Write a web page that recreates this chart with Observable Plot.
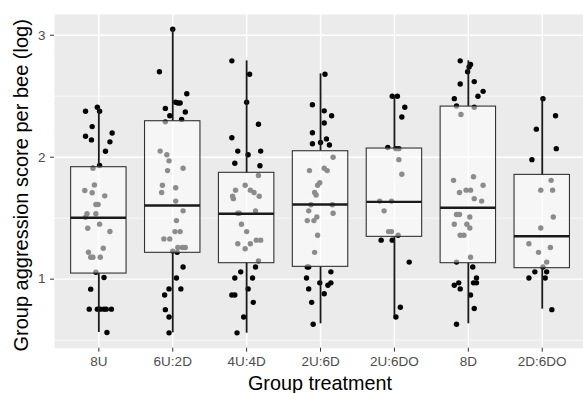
<!DOCTYPE html>
<html><head><meta charset="utf-8">
<script src="https://cdn.jsdelivr.net/npm/d3@7"></script>
<script src="https://cdn.jsdelivr.net/npm/@observablehq/plot@0.6"></script>
<style>body{margin:0;background:#fff} svg{display:block}</style>
</head><body><div id="chart"></div>
<script>
const categories = ["8U", "6U:2D", "4U:4D", "2U:6D", "2U:6DO", "8D", "2D:6DO"];
const q1 =          [1.046, 1.216, 1.131, 1.101, 1.347, 1.131, 1.090];
const median =      [1.503, 1.604, 1.536, 1.612, 1.634, 1.585, 1.352];
const q3 =          [1.918, 2.295, 1.872, 2.049, 2.071, 2.415, 1.855];
const whiskerLow =  [0.563, 0.560, 0.557, 0.634, 0.694, 0.634, 0.754];
const whiskerHigh = [2.400, 3.050, 2.790, 2.683, 2.497, 2.790, 2.478];
const yTicks = [1, 2, 3];
const yMinor = [0.5, 1.5, 2.5];

const values_8U = [2.377, 2.410, 2.377, 2.251, 2.172, 2.142, 2.199, 2.126, 2.049, 1.932,
  1.910, 1.773, 1.727, 1.708, 1.683, 1.612, 1.612, 1.536, 1.508, 1.536, 1.418, 1.451, 1.391,
  1.221, 1.254, 1.180, 1.180, 1.180, 1.057,
  1.014, 0.918, 0.754, 0.754, 0.754, 0.754, 0.754, 0.754, 0.563];
const jitter_8U = [-0.18, -0.02, 0.01, -0.09, -0.18, -0.10, 0.18, 0.15, 0.09, 0.01,
  -0.08, -0.06, -0.19, -0.09, 0.08, -0.04, -0.01, -0.16, -0.18, -0.04, -0.15, 0.01, 0.15,
  -0.14, 0.06, -0.11, -0.08, 0.02, -0.04,
  0.07, -0.11, -0.13, -0.02, 0.02, 0.07, 0.10, 0.17, 0.11];

const values_6U2D = [3.05, 2.70, 2.52, 2.45, 2.445, 2.445, 2.40, 2.34, 2.37, 2.31,
  2.29, 2.05, 2.02, 1.97, 1.89, 1.91, 1.77, 1.71, 1.75, 1.64, 1.56, 1.48, 1.39, 1.39,
  1.33, 1.33, 1.26, 1.26, 1.26, 1.23, 1.22,
  1.10, 1.01, 0.92, 0.92, 0.87, 0.75, 0.69, 0.56];
const jitter_6U2D = [0.00, -0.18, 0.19, 0.04, 0.07, 0.10, -0.10, -0.04, 0.17, 0.12,
  -0.10, -0.17, -0.08, -0.05, -0.07, 0.14, -0.14, -0.15, 0.04, 0.04, 0.14, 0.05, 0.03, 0.10,
  -0.12, -0.04, 0.07, 0.13, 0.17, 0.00, 0.06,
  0.14, 0.05, -0.05, 0.11, -0.11, -0.10, -0.05, -0.05];

const values_4U4D = [2.79, 2.68, 2.45, 2.27, 2.16, 2.05, 2.05, 2.02, 1.95, 1.93,
  1.85, 1.77, 1.73, 1.73, 1.71, 1.68, 1.68, 1.66, 1.54, 1.54, 1.56, 1.45, 1.39,
  1.29, 1.25, 1.29, 1.32, 1.32, 1.15,
  1.10, 1.06, 1.01, 1.01, 0.92, 0.87, 0.87, 0.81, 0.69, 0.56];
const jitter_4U4D = [-0.20, 0.04, 0.00, 0.16, -0.20, -0.12, 0.19, 0.02, -0.16, 0.18,
  0.16, -0.02, -0.15, 0.05, 0.10, 0.17, -0.19, -0.18, -0.12, -0.10, 0.12, -0.07, 0.00,
  -0.12, -0.02, 0.05, 0.13, 0.19, 0.16,
  0.12, -0.08, -0.16, 0.08, 0.02, -0.20, -0.16, 0.09, -0.04, -0.13];

const values_2U6D = [2.68, 2.43, 2.38, 2.34, 2.28, 2.20, 2.11, 2.12, 2.15, 2.10,
  2.00, 1.89, 1.91, 1.89, 1.79, 1.77, 1.71, 1.69, 1.61, 1.61, 1.56, 1.54, 1.48, 1.48,
  1.51, 1.36, 1.22, 1.10, 1.10,
  1.06, 1.01, 0.97, 0.95, 0.97, 0.88, 0.92, 0.81, 0.63];
const jitter_2U6D = [0.06, -0.11, 0.05, 0.15, 0.05, -0.11, -0.11, 0.00, 0.08, 0.12,
  0.17, -0.15, 0.05, 0.09, -0.01, -0.04, -0.08, -0.06, -0.13, 0.16, -0.16, 0.17, -0.18, -0.09,
  -0.05, -0.04, -0.08, -0.18, -0.16,
  0.14, -0.19, -0.01, 0.10, 0.14, 0.05, -0.16, -0.12, -0.10];

const values_2U6DO = [2.50, 2.50, 2.41, 2.33, 2.08, 2.07, 2.07, 1.98, 1.86, 1.64, 1.64,
  1.56, 1.39, 1.39, 1.36, 1.32, 1.32, 1.14, 0.77, 0.69];
const jitter_2U6DO = [-0.03, 0.04, 0.14, 0.10, -0.09, 0.02, 0.06, 0.06, 0.10, -0.20, -0.04,
  -0.14, -0.08, -0.04, 0.05, -0.18, -0.03, 0.20, 0.08, 0.02];

const values_8D = [2.79, 2.76, 2.74, 2.70, 2.60, 2.62, 2.54, 2.50, 2.48, 2.42, 2.41, 2.35,
  1.81, 1.84, 1.77, 1.71, 1.73, 1.73, 1.66, 1.64, 1.53, 1.53, 1.51, 1.45, 1.45, 1.42,
  1.36, 1.36, 1.14, 1.18,
  1.10, 1.01, 0.95, 0.97, 0.92, 0.97, 0.97, 0.87, 0.76, 0.63];
const jitter_8D = [-0.11, 0.03, 0.01, -0.01, -0.11, 0.08, 0.20, 0.13, -0.19, -0.16, 0.08, -0.10,
  -0.20, 0.07, 0.20, -0.12, -0.03, 0.03, 0.08, 0.18, -0.16, -0.12, 0.02, -0.19, -0.02, 0.02,
  -0.11, -0.06, -0.16, 0.03,
  0.06, 0.11, -0.19, -0.13, -0.11, 0.07, 0.11, 0.03, 0.08, -0.16];

const values_2D6DO = [2.48, 2.34, 2.23, 2.07, 1.98, 1.81, 1.73, 1.73, 1.51, 1.42, 1.29, 1.26,
  1.22, 1.14, 1.10, 1.06, 1.01, 1.06, 1.01, 0.75];
const jitter_2D6DO = [0.01, 0.18, -0.08, 0.19, -0.14, 0.12, -0.02, 0.14, 0.15, -0.02, -0.18, 0.11,
  -0.05, 0.06, 0.01, -0.10, -0.18, 0.06, 0.04, 0.13];

const groupValues = [values_8U, values_6U2D, values_4U4D, values_2U6D, values_2U6DO, values_8D, values_2D6DO];
const groupJitter = [jitter_8U, jitter_6U2D, jitter_4U4D, jitter_2U6D, jitter_2U6DO, jitter_8D, jitter_2D6DO];

const points = groupValues.flatMap((vals, g) =>
  vals.map((v, i) => ({pos: g + 1 + groupJitter[g][i], value: v})));
const boxes = categories.map((c, i) => ({
  pos: i + 1, name: c, q1: q1[i], median: median[i], q3: q3[i], lo: whiskerLow[i], hi: whiskerHigh[i]
}));
const positions = categories.map((c, i) => i + 1);
const HW = 0.375;
const band = 73.9;

const chart = Plot.plot({
  width: 583, height: 393,
  marginLeft: 54, marginRight: 0, marginTop: 14, marginBottom: 45.3,
  style: {fontFamily: "'Liberation Sans', Arial, sans-serif", fontSize: "13.5px", background: "white", overflow: "hidden"},
  x: {type: "linear", domain: [0.4, 7.6], range: [54, 54 + 7.2 * band]},
  y: {type: "linear", domain: [0.434, 3.17]},
  marks: [
    Plot.frame({fill: "#ebebeb", stroke: null}),
    Plot.ruleY(yMinor, {stroke: "white", strokeWidth: 0.7}),
    Plot.ruleY(yTicks, {stroke: "white", strokeWidth: 1.4}),
    Plot.ruleX(positions, {stroke: "white", strokeWidth: 1.4}),
    Plot.dot(points, {x: "pos", y: "value", r: 2.7, fill: "black", stroke: null}),
    Plot.ruleX(boxes, {x: "pos", y1: "q3", y2: "hi", stroke: "#1a1a1a", strokeWidth: 1.8}),
    Plot.ruleX(boxes, {x: "pos", y1: "lo", y2: "q1", stroke: "#1a1a1a", strokeWidth: 1.8}),
    Plot.rect(boxes, {x1: d => d.pos - HW, x2: d => d.pos + HW, y1: "q1", y2: "q3",
      fill: "white", fillOpacity: 0.55, stroke: "#333333", strokeWidth: 1.1}),
    Plot.ruleY(boxes, {y: "median", x1: d => d.pos - HW, x2: d => d.pos + HW, stroke: "#1a1a1a", strokeWidth: 2.4}),
    Plot.axisX(positions, {tickFormat: d => categories[d - 1], tickSize: 4, tickPadding: 4,
      fontSize: 13.5, stroke: "#333333", fill: "#4d4d4d", label: null}),
    Plot.axisY(yTicks, {tickFormat: d => String(d), tickSize: 4, tickPadding: 5, fontSize: 13.5,
      stroke: "#333333", fill: "#4d4d4d", label: null}),
    Plot.text(["Group treatment"], {text: d => d, frameAnchor: "bottom", textAnchor: "middle",
      lineAnchor: "middle", dx: 1, dy: 35.5, fontSize: 19.8, fill: "black"}),
    Plot.text(["Group aggression score per bee (log)"], {text: d => d, frameAnchor: "left", textAnchor: "middle",
      lineAnchor: "middle", rotate: -90, dx: -32.8, dy: 4, fontSize: 20, fill: "black"})
  ]
});
document.getElementById("chart").appendChild(chart);
</script>
</body></html>
